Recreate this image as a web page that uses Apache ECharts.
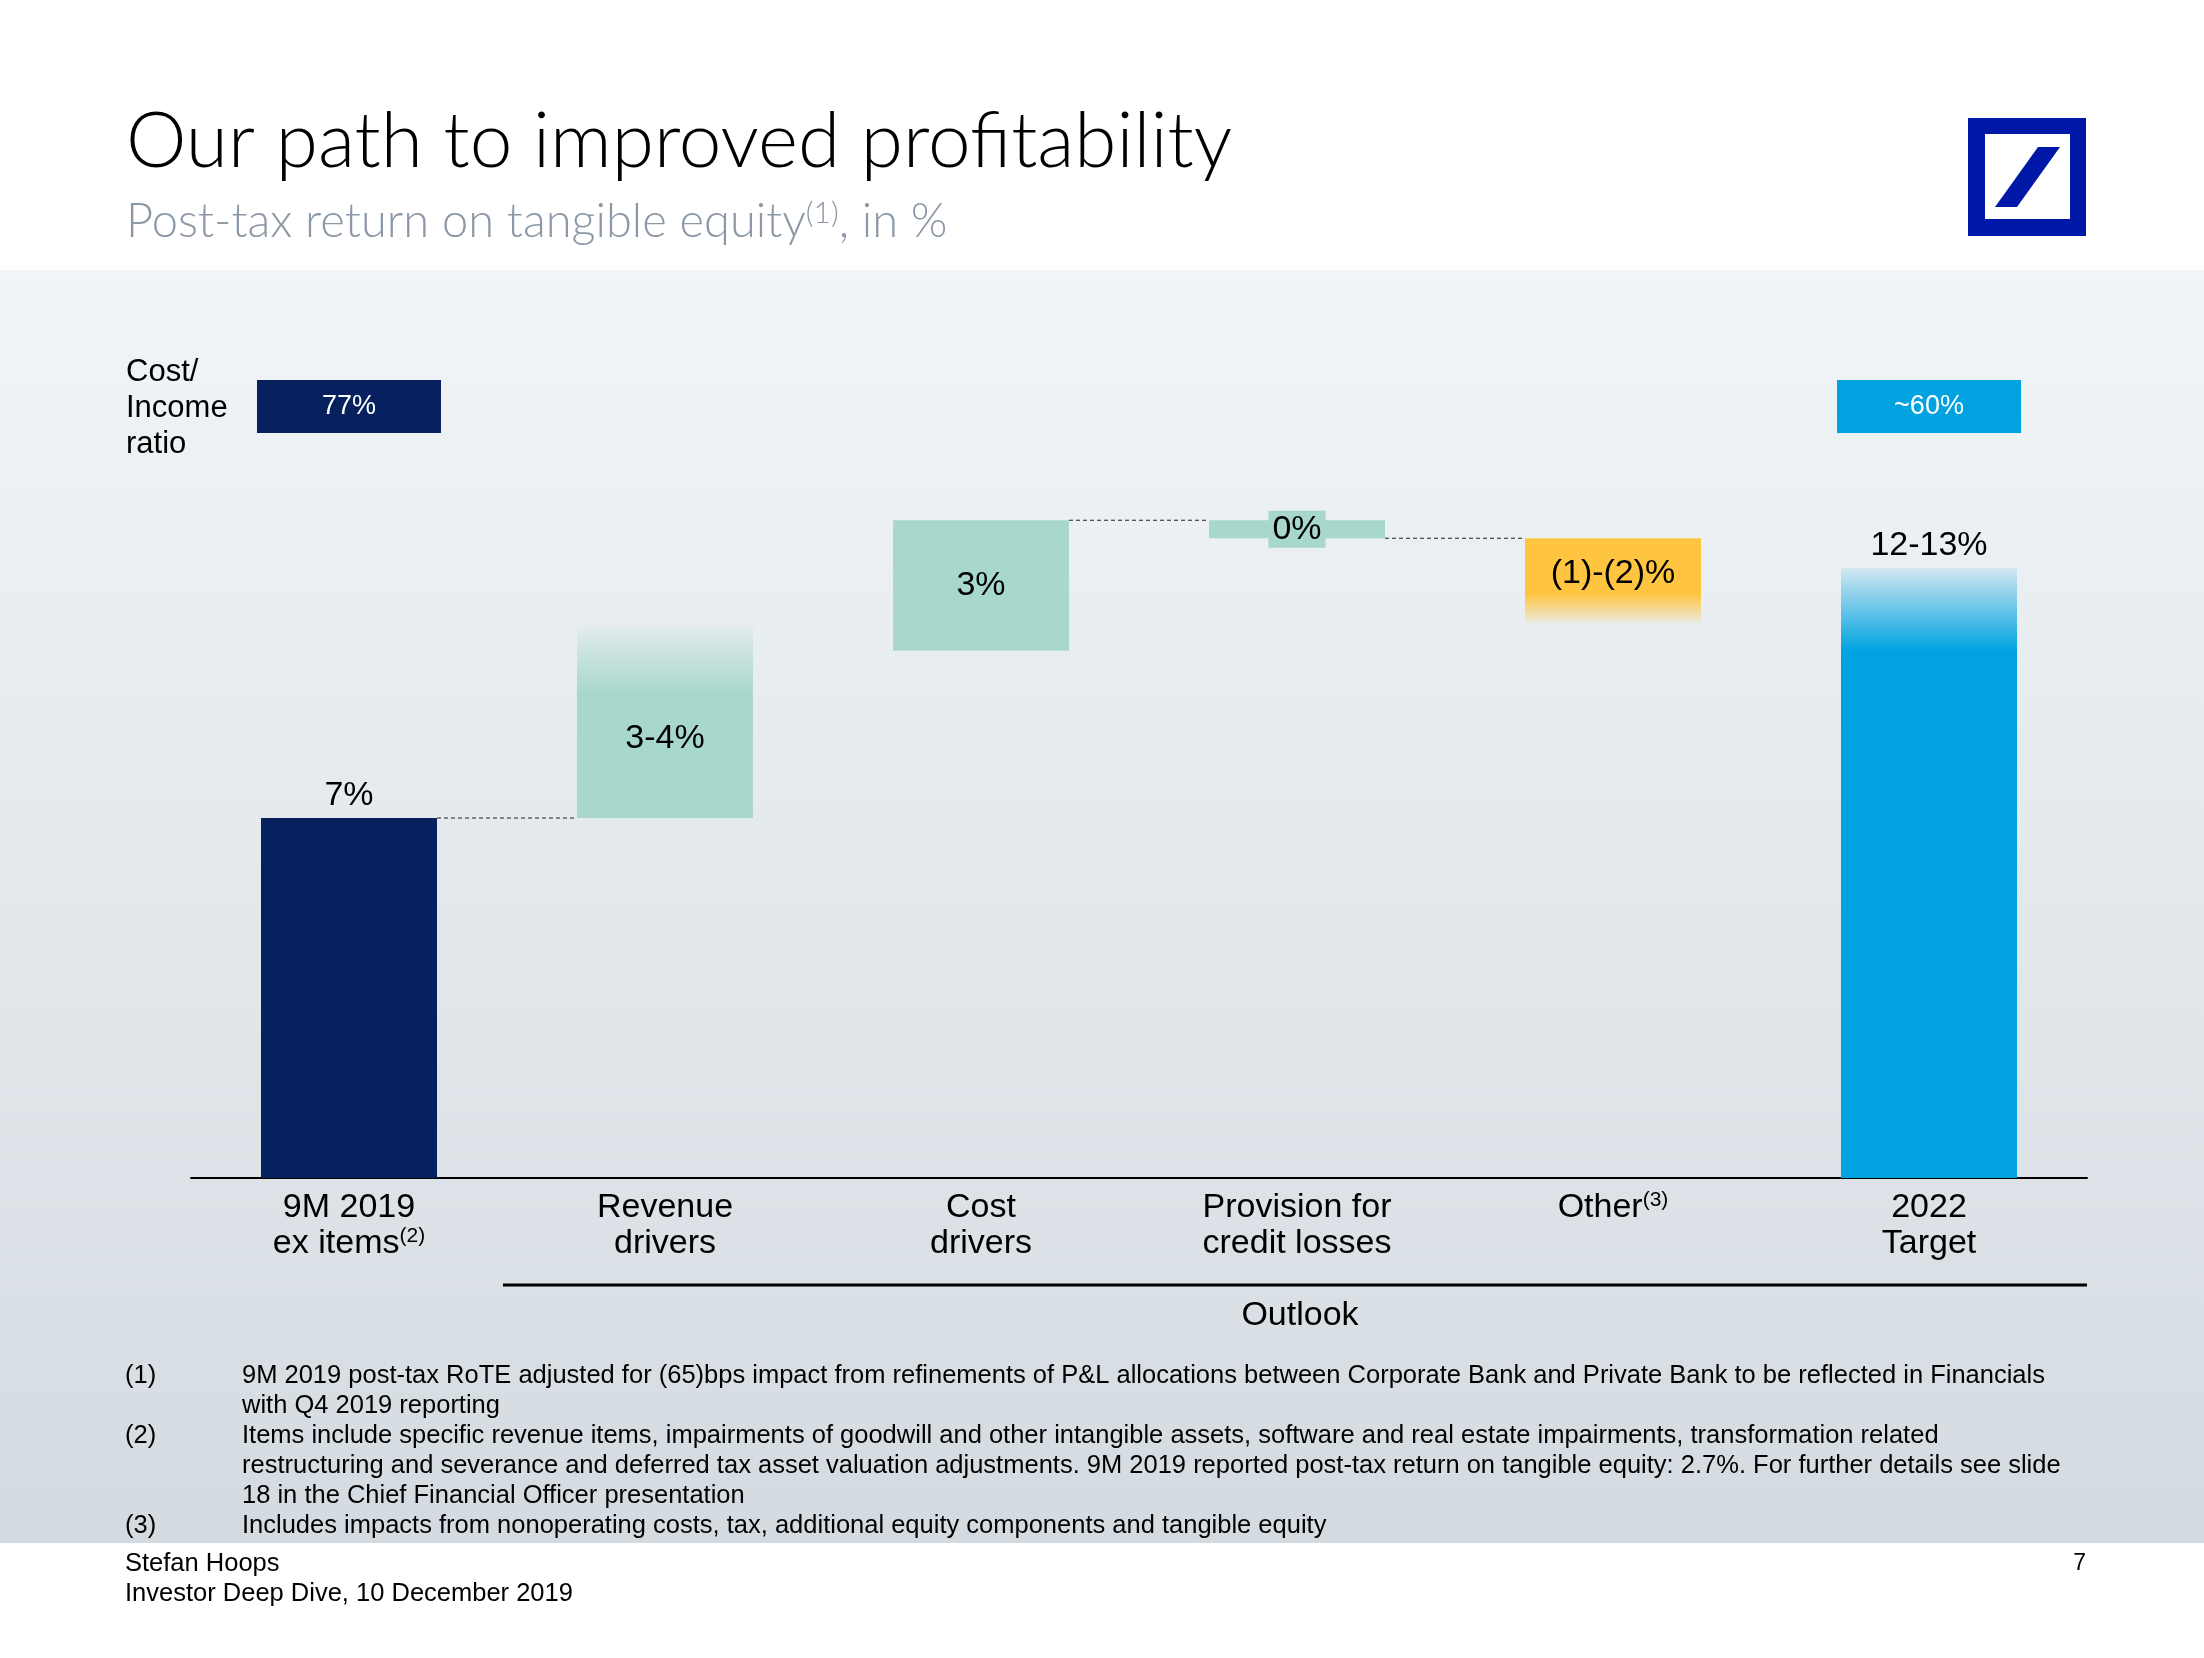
<!DOCTYPE html>
<html><head><meta charset="utf-8">
<script src="https://cdn.jsdelivr.net/npm/echarts/dist/echarts.min.js"></script>
<style>html,body{margin:0;padding:0;background:#fff}#chart{width:2204px;height:1658px}</style>
</head><body><div id="chart"></div>
<script>
// ---- data ----
const categories = ['9M 2019\nex items(2)', 'Revenue\ndrivers', 'Cost\ndrivers', 'Provision for\ncredit losses', 'Other(3)', '2022\nTarget'];
const barStart = [0, 7, 10.25, 12.79, 12.44, 0];
const barEnd = [7, 9.45, 12.79, 12.44, 11.34, 10.27];
const barFade = [null, 10.73, null, null, 10.79, 11.86];
const barLabels = ['7%', '3-4%', '3%', '0%', '(1)-(2)%', '12-13%'];
const ciRatio = ['77%', null, null, null, null, '~60%'];
const connectorFrom = [0, 2, 3];
const connectorLevel = [7, 12.79, 12.44];
const footnoteNums = ['(1)', '(2)', '(3)'];
const footnoteTexts = [
  '9M 2019 post-tax RoTE adjusted for (65)bps impact from refinements of P&L allocations between Corporate Bank and Private Bank to be reflected in Financials\nwith Q4 2019 reporting',
  'Items include specific revenue items, impairments of goodwill and other intangible assets, software and real estate impairments, transformation related\nrestructuring and severance and deferred tax asset valuation adjustments. 9M 2019 reported post-tax return on tangible equity: 2.7%. For further details see slide\n18 in the Chief Financial Officer presentation',
  'Includes impacts from nonoperating costs, tax, additional equity components and tangible equity'
];

// ---- styles ----
const NAVY = '#07215f', TEAL = '#a8d8cd', YELLOW = '#ffc540', BLUE = '#00a3e0';
const barColors = [NAVY, TEAL, TEAL, TEAL, YELLOW, BLUE];
const ciColors = [NAVY, null, null, null, null, BLUE];
const labelPlacement = ['top', 'inside', 'inside', 'box', 'inside', 'top'];
const FONT = 'Liberation Sans';
const BAR_RATIO = 0.557;

const chart = echarts.init(document.getElementById('chart'), null, {renderer: 'canvas'});

function renderBar(params, api) {
  const i = api.value(0), from = api.value(1), to = api.value(2), fade = api.value(3);
  const w = api.size([1, 0])[0] * BAR_RATIO;
  const cx = api.coord([i, 0])[0];
  const yFrom = api.coord([i, from])[1], yTo = api.coord([i, to])[1];
  const color = barColors[i];
  const children = [{
    type: 'rect',
    shape: {x: cx - w / 2, y: Math.min(yFrom, yTo), width: w, height: Math.max(1, Math.abs(yTo - yFrom))},
    style: {fill: color}
  }];
  let labelRef = to;
  let topY = Math.min(yFrom, yTo);
  if (fade != null && !isNaN(fade)) {
    const yFade = api.coord([i, fade])[1];
    const up = yFade < yTo;
    const y0 = up ? yFade : yTo - 1;
    const h = Math.abs(yFade - yTo) + 1;
    children.push({
      type: 'rect',
      shape: {x: cx - w / 2, y: y0, width: w, height: h},
      style: {fill: new echarts.graphic.LinearGradient(0, up ? 1 : 0, 0, up ? 0 : 1, [
        {offset: 0, color: color},
        {offset: 1, color: echarts.color.modifyAlpha(color, 0.1)}
      ])}
    });
    labelRef = (to + fade) / 2;
    topY = Math.min(topY, yFade);
  }
  const place = labelPlacement[i];
  const txtStyle = {text: barLabels[i], fontSize: 34, fontFamily: FONT, fill: '#000', align: 'center'};
  let ty;
  if (place === 'top') {
    ty = topY - 5; txtStyle.verticalAlign = 'bottom';
  } else {
    ty = (yFrom + api.coord([i, labelRef])[1]) / 2; txtStyle.verticalAlign = 'middle';
    if (place === 'box') { txtStyle.backgroundColor = color; txtStyle.padding = [2, 4, 1, 4]; }
  }
  children.push({type: 'text', x: cx, y: ty, style: txtStyle, z2: 10});
  return {type: 'group', children};
}

function renderConnector(params, api) {
  const i = api.value(0), lvl = api.value(1);
  const w = api.size([1, 0])[0] * BAR_RATIO;
  const p1 = api.coord([i, lvl]), p2 = api.coord([i + 1, lvl]);
  return {type: 'line', shape: {x1: p1[0] + w / 2, y1: p1[1], x2: p2[0] - w / 2, y2: p2[1]},
    style: {stroke: '#222', lineWidth: 1.2, lineDash: [4, 3]}};
}

function catFormatter(v) {
  return v.split('\n').map(l => l.replace(/\((\d)\)/, '{sup|($1)}')).join('\n');
}

const gridLeft = 191, gridRight = 117;

const option = {
  animation: false,
  backgroundColor: '#ffffff',
  grid: [
    {left: gridLeft, right: gridRight, top: 458, bottom: 480},
    {left: gridLeft, right: gridRight, top: 380, height: 53}
  ],
  xAxis: [
    {type: 'category', gridIndex: 0, data: categories,
      axisLine: {lineStyle: {color: '#000', width: 2}}, axisTick: {show: false},
      axisLabel: {interval: 0, margin: 12, color: '#000', fontFamily: FONT, fontSize: 34, lineHeight: 36,
        formatter: catFormatter,
        rich: {sup: {fontSize: 21, fontFamily: FONT, color: '#000', lineHeight: 16, verticalAlign: 'top'}}}},
    {type: 'category', gridIndex: 1, data: categories, show: false}
  ],
  yAxis: [
    {type: 'value', gridIndex: 0, min: 0, max: 14, show: false},
    {type: 'value', gridIndex: 1, min: 0, max: 1, show: false}
  ],
  series: [
    {type: 'custom', xAxisIndex: 0, yAxisIndex: 0, renderItem: renderBar,
      dimensions: ['idx', 'start', 'end', 'fade'], encode: {x: 0, y: [1, 2]},
      data: categories.map((c, i) => [i, barStart[i], barEnd[i], barFade[i] == null ? NaN : barFade[i]]), z: 3},
    {type: 'custom', xAxisIndex: 0, yAxisIndex: 0, renderItem: renderConnector,
      encode: {x: 0, y: 1},
      data: connectorFrom.map((f, k) => [f, connectorLevel[k]]), z: 2},
    {type: 'bar', xAxisIndex: 1, yAxisIndex: 1, barWidth: 184,
      data: ciRatio.map((v, i) => v == null ? '-' : {value: 1, itemStyle: {color: ciColors[i]}}),
      label: {show: true, position: 'inside', color: '#fff', fontFamily: FONT, fontSize: 27,
        formatter: p => ciRatio[p.dataIndex] || ''}}
  ],
  graphic: [
    {type: 'rect', z: -100, shape: {x: 0, y: 270, width: 2204, height: 1273},
      style: {fill: new echarts.graphic.LinearGradient(0, 0, 0, 1, [
        {offset: 0, color: '#f1f5f8'}, {offset: 1, color: '#d4dbe0'}])}},
    {type: 'text', x: 126, y: 142, style: {text: 'Our path to improved profitability', fontFamily: 'Lato', fontWeight: 300,
      fontSize: 76.5, fill: '#000', align: 'left', verticalAlign: 'middle'}},
    {type: 'text', x: 126, y: 222, style: {text: 'Post-tax return on tangible equity{sup|(1)}, in %', fontFamily: 'Lato', fontWeight: 300,
      fontSize: 47, fill: '#8c98a6', align: 'left', verticalAlign: 'middle',
      rich: {sup: {fontFamily: 'Lato', fontWeight: 300, fontSize: 30, fill: '#8c98a6', lineHeight: 24, verticalAlign: 'top'}}}},
    // logo
    {type: 'rect', shape: {x: 1968, y: 118, width: 118, height: 118}, style: {fill: '#0018a8'}},
    {type: 'rect', shape: {x: 1985, y: 134, width: 85, height: 85}, style: {fill: '#ffffff'}},
    {type: 'polygon', shape: {points: [[2038, 147], [2060, 147], [2017, 207], [1995, 207]]}, style: {fill: '#0018a8'}},
    {type: 'text', x: 126, y: 408, style: {text: 'Cost/\nIncome\nratio', fontFamily: FONT, fontSize: 31, lineHeight: 36,
      fill: '#000', align: 'left', verticalAlign: 'middle'}},
    {type: 'line', shape: {x1: 503, y1: 1285, x2: 2087, y2: 1285}, style: {stroke: '#000', lineWidth: 3}},
    {type: 'text', x: 1300, y: 1316, style: {text: 'Outlook', fontFamily: FONT, fontSize: 34, fill: '#000', align: 'center', verticalAlign: 'middle'}},
    ...footnoteNums.map((n, k) => ({type: 'text', x: 125, y: [1361, 1421, 1511][k],
      style: {text: n, fontFamily: FONT, fontSize: 25.5, lineHeight: 30, fill: '#000', align: 'left', verticalAlign: 'top'}})),
    ...footnoteTexts.map((t, k) => ({type: 'text', x: 242, y: [1361, 1421, 1511][k],
      style: {text: t, fontFamily: FONT, fontSize: 25.5, lineHeight: 30, fill: '#000', align: 'left', verticalAlign: 'top'}})),
    {type: 'text', x: 125, y: 1549, style: {text: 'Stefan Hoops\nInvestor Deep Dive, 10 December 2019', fontFamily: FONT, fontSize: 25.5,
      lineHeight: 30, fill: '#000', align: 'left', verticalAlign: 'top'}},
    {type: 'text', x: 2086, y: 1564, style: {text: '7', fontFamily: FONT, fontSize: 23, fill: '#000', align: 'right', verticalAlign: 'middle'}}
  ]
};
chart.setOption(option);
</script></body></html>
